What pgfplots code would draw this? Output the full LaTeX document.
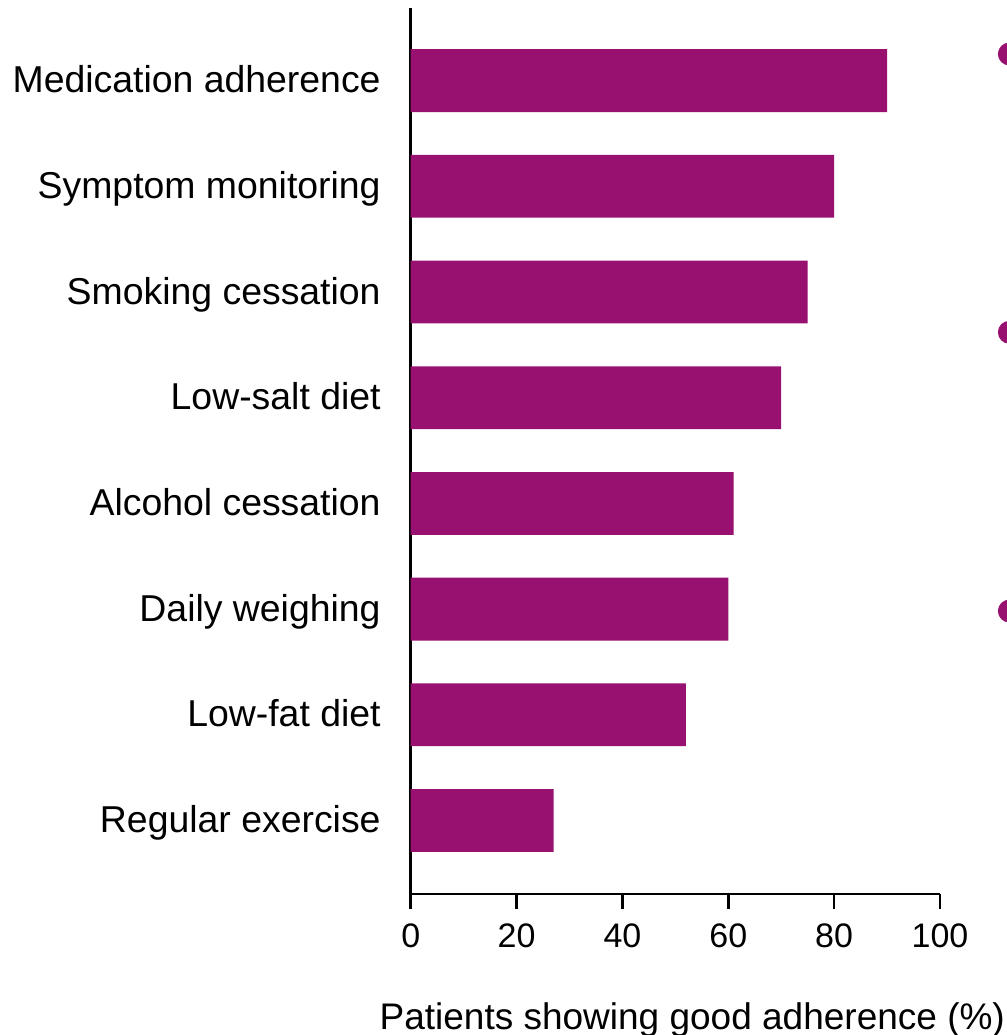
\documentclass[border=0pt]{standalone}
\usepackage{pgfplots}
\usepackage{pgfplotstable}
\pgfplotsset{compat=1.18}
\usepackage{fontspec}
\setmainfont{Liberation Sans}

\definecolor{barpurple}{RGB}{152,17,112}

% Share of patients with good adherence, per self-care behaviour
% (row index 0 = bottom bar)
\pgfplotstableread{
idx value
0 27
1 52
2 60
3 61
4 70
5 75
6 80
7 90
}\adherence

\begin{document}
\begin{tikzpicture}
\begin{axis}[
  scale only axis,
  width=264.65pt, height=443pt,
  xmin=0, xmax=100,
  ymin=-0.695, ymax=7.687,
  axis x line*=bottom,
  axis y line*=left,
  axis line style={-, line width=1.3pt, black},
  xtick={0,20,40,60,80,100},
  ytick={0,1,2,3,4,5,6,7},
  yticklabels={Regular exercise, Low-fat diet, Daily weighing, Alcohol cessation,
    Low-salt diet, Smoking cessation, Symptom monitoring, Medication adherence},
  tick align=outside,
  major tick length=7.5pt,
  x tick style={line width=1.3pt, black},
  y tick style={draw=none},
  /pgf/number format/assume math mode=true,
  xticklabel style={font=\fontsize{17}{20}\selectfont, anchor=base, inner sep=0pt, yshift=-19.5pt},
  yticklabel style={font=\fontsize{18.7}{22}\selectfont, anchor=base east, inner sep=0pt, xshift=-7.35pt, yshift=-6pt},
  xlabel={Patients showing good adherence (\%)},
  xlabel style={font=\fontsize{18.5}{22}\selectfont, at={(axis description cs:0.532,0)}, anchor=base, inner sep=0pt, yshift=-68pt},
  clip=false,
]
\addplot[xbar, bar width=0.594, fill=barpurple, draw=none] table[x=value, y=idx] {\adherence};
% list bullets running past the right edge
\addplot[only marks, mark=*, mark size=5.5pt, color=barpurple] coordinates {(113.1,7.252) (113.1,4.619) (113.1,1.982)};
\coordinate (bb-sw) at (axis cs:-77.6,-2.029);
\coordinate (bb-ne) at (axis cs:112.66,7.763);
\end{axis}
\pgfresetboundingbox
\useasboundingbox (bb-sw) rectangle (bb-ne);
\end{tikzpicture}
\end{document}
